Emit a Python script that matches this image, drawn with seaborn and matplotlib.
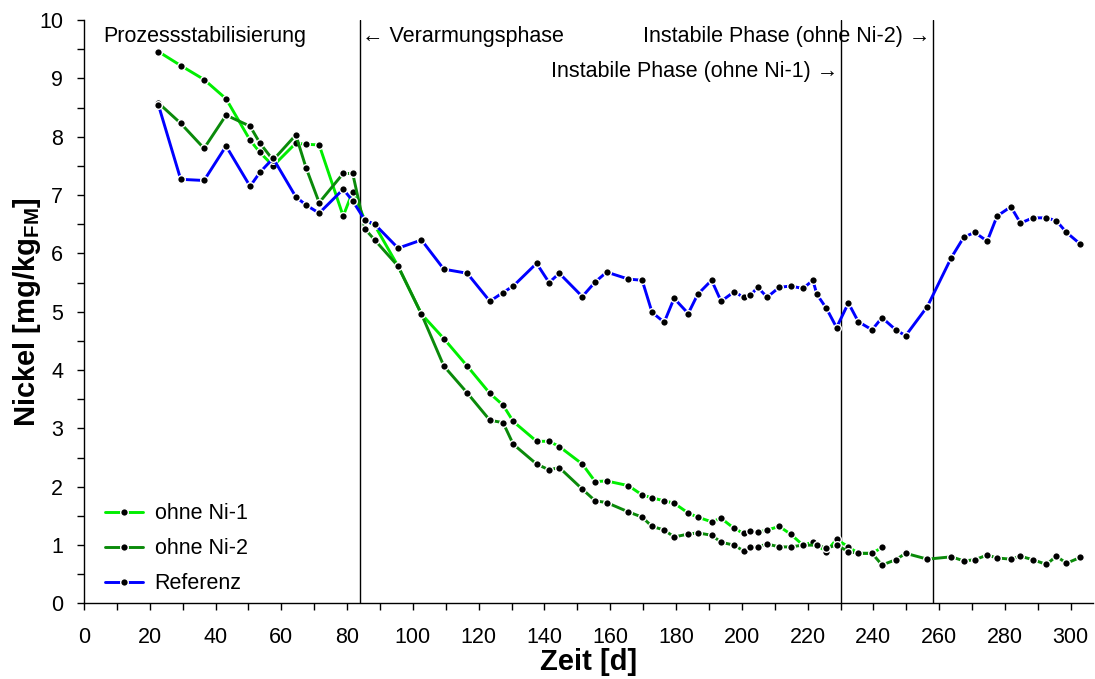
import numpy as np
import pandas as pd
import matplotlib
matplotlib.use("Agg")
import matplotlib.pyplot as plt
import seaborn as sns
from matplotlib.ticker import MultipleLocator

# ---- data ----
tage = [22.6, 29.4, 36.5, 43.2, 50.5, 53.5, 57.5, 64.4, 67.5, 71.5, 78.8, 81.7,
        85.4, 88.4, 95.5, 102.6, 109.4, 116.5, 123.4, 127.4, 130.5, 137.6, 141.4,
        144.5, 151.5, 155.4, 158.9, 165.5, 169.7, 172.7, 176.4, 179.4, 183.7, 186.6,
        190.8, 193.7, 197.6, 200.6, 202.6, 204.8, 207.7, 211.4, 214.8, 218.6, 221.6,
        222.8, 225.7, 228.8, 232.4, 235.4, 239.6, 242.6, 246.8, 249.8, 256.4, 263.7,
        267.5, 270.8, 274.6, 277.6, 281.8, 284.7, 288.5, 292.6, 295.6, 298.7, 302.9]

ohne_ni_1 = [9.46, 9.22, 8.98, 8.65, 7.94, 7.73, 7.50, 7.89, 7.87, 7.86, 6.64, 7.06,
             6.57, 6.48, 5.78, 4.96, 4.54, 4.07, 3.60, 3.40, 3.12, 2.78, 2.78,
             2.69, 2.39, 2.09, 2.10, 2.02, 1.86, 1.81, 1.76, 1.72, 1.55, 1.48,
             1.40, 1.46, 1.29, 1.20, 1.24, 1.22, 1.26, 1.32, 1.19, 1.00, 1.05,
             None, 0.89, 1.10, 0.97, 0.86, 0.86, 0.96, None, None, None, None,
             None, None, None, None, None, None, None, None, None, None, None]

ohne_ni_2 = [8.58, 8.23, 7.80, 8.37, 8.18, 7.89, 7.60, 8.03, 7.47, 6.87, 7.37, 7.37,
             6.42, 6.23, 5.78, 4.96, 4.07, 3.61, 3.14, 3.10, 2.73, 2.39, 2.29,
             2.33, 1.96, 1.76, 1.73, 1.57, 1.48, 1.32, 1.26, 1.14, 1.19, 1.21,
             1.17, 1.05, 1.00, 0.90, 0.96, 0.97, 1.02, 0.97, 0.97, 1.00, None,
             1.00, 0.95, 1.00, 0.89, 0.86, 0.86, 0.66, 0.75, 0.86, 0.76, 0.80,
             0.73, 0.75, 0.83, 0.78, 0.76, 0.81, 0.75, 0.67, 0.81, 0.69, 0.79]

referenz = [8.55, 7.27, 7.25, 7.84, 7.15, 7.39, 7.63, 6.97, 6.83, 6.69, 7.10, 6.90,
            6.57, 6.50, 6.09, 6.23, 5.73, 5.66, 5.18, 5.33, 5.44, 5.83, 5.50,
            5.66, 5.26, 5.51, 5.68, 5.56, 5.54, 4.99, 4.82, 5.23, 4.97, 5.30,
            5.54, 5.18, 5.34, 5.25, 5.28, 5.42, 5.25, 5.42, 5.44, 5.40, 5.54,
            5.30, 5.06, 4.73, 5.15, 4.83, 4.69, 4.90, 4.69, 4.59, 5.09, 5.93,
            6.28, 6.36, 6.21, 6.64, 6.80, 6.52, 6.61, 6.61, 6.56, 6.36, 6.16]

serien = ["ohne Ni-1", "ohne Ni-2", "Referenz"]
farben = ["#00ee00", "#0a8a0a", "#0000ff"]
phasen_grenzen = [84, 230, 258]

x_ticks = list(range(0, 301, 20))
y_ticks = list(range(0, 11, 1))

# ---- build long table ----
frames = []
for name, vals in zip(serien, [ohne_ni_1, ohne_ni_2, referenz]):
    frames.append(pd.DataFrame({"Zeit": tage, "Nickel": vals, "Serie": name}))
df = pd.concat(frames, ignore_index=True).dropna()
df["Nickel"] = df["Nickel"].astype(float)

sns.set_theme(style="ticks")
plt.rcParams["font.family"] = ["Liberation Sans", "DejaVu Sans"]
plt.rcParams["mathtext.fontset"] = "custom"
plt.rcParams["mathtext.rm"] = "Liberation Sans"
plt.rcParams["mathtext.bf"] = "Liberation Sans:bold"
plt.rcParams["text.color"] = "black"
plt.rcParams["axes.labelcolor"] = "black"

fs = 15.5

fig = plt.figure(figsize=(10.95, 6.79), dpi=100)
ax = fig.add_axes([0.0767, 0.1112, 0.9213, 0.8593])

sns.lineplot(data=df, x="Zeit", y="Nickel", hue="Serie", hue_order=serien,
             palette=dict(zip(serien, farben)), marker="o", markersize=5.5,
             markerfacecolor="black", markeredgecolor="white", markeredgewidth=1.0,
             linewidth=2.1, sort=False, estimator=None, legend=False, ax=ax)

for xv in phasen_grenzen:
    ax.axvline(xv, color="black", linewidth=1.0, zorder=1)

ax.set_xlim(0, 306.7)
ax.set_ylim(0, 10)
ax.set_xticks(x_ticks)
ax.set_yticks(y_ticks)
ax.xaxis.set_minor_locator(MultipleLocator(10))
ax.yaxis.set_minor_locator(MultipleLocator(0.5))
ax.tick_params(which="both", direction="out", length=5, width=1.0, color="black",
               labelsize=fs, labelcolor="black")
ax.tick_params(axis="x", pad=12)
ax.tick_params(axis="y", pad=10)
sns.despine(ax=ax)
for s in ["left", "bottom"]:
    ax.spines[s].set_color("black")
    ax.spines[s].set_linewidth(1.0)

ax.set_xlabel("Zeit [d]", fontsize=21, fontweight="bold", labelpad=0, color="black")
ax.set_ylabel(r"Nickel [mg/kg$_{\mathbf{FM}}$]", fontsize=21, fontweight="bold",
              labelpad=-3, color="black")

ax.text(5.8, 9.71, "Prozessstabilisierung", fontsize=fs, va="center", ha="left")
ax.text(84.6, 9.71, "\u2190 Verarmungsphase", fontsize=fs, va="center", ha="left")
ax.text(257.2, 9.71, "Instabile Phase (ohne Ni-2) \u2192", fontsize=fs, va="center", ha="right")
ax.text(229.3, 9.11, "Instabile Phase (ohne Ni-1) \u2192", fontsize=fs, va="center", ha="right")

handles = ax.get_lines()[:3]
ax.legend(handles, serien, loc="lower left", bbox_to_anchor=(0.005, -0.012),
          frameon=False, fontsize=fs, handlelength=1.75, handletextpad=0.55,
          labelspacing=0.65, borderaxespad=0.35)

fig.savefig("out.png", dpi=100)
